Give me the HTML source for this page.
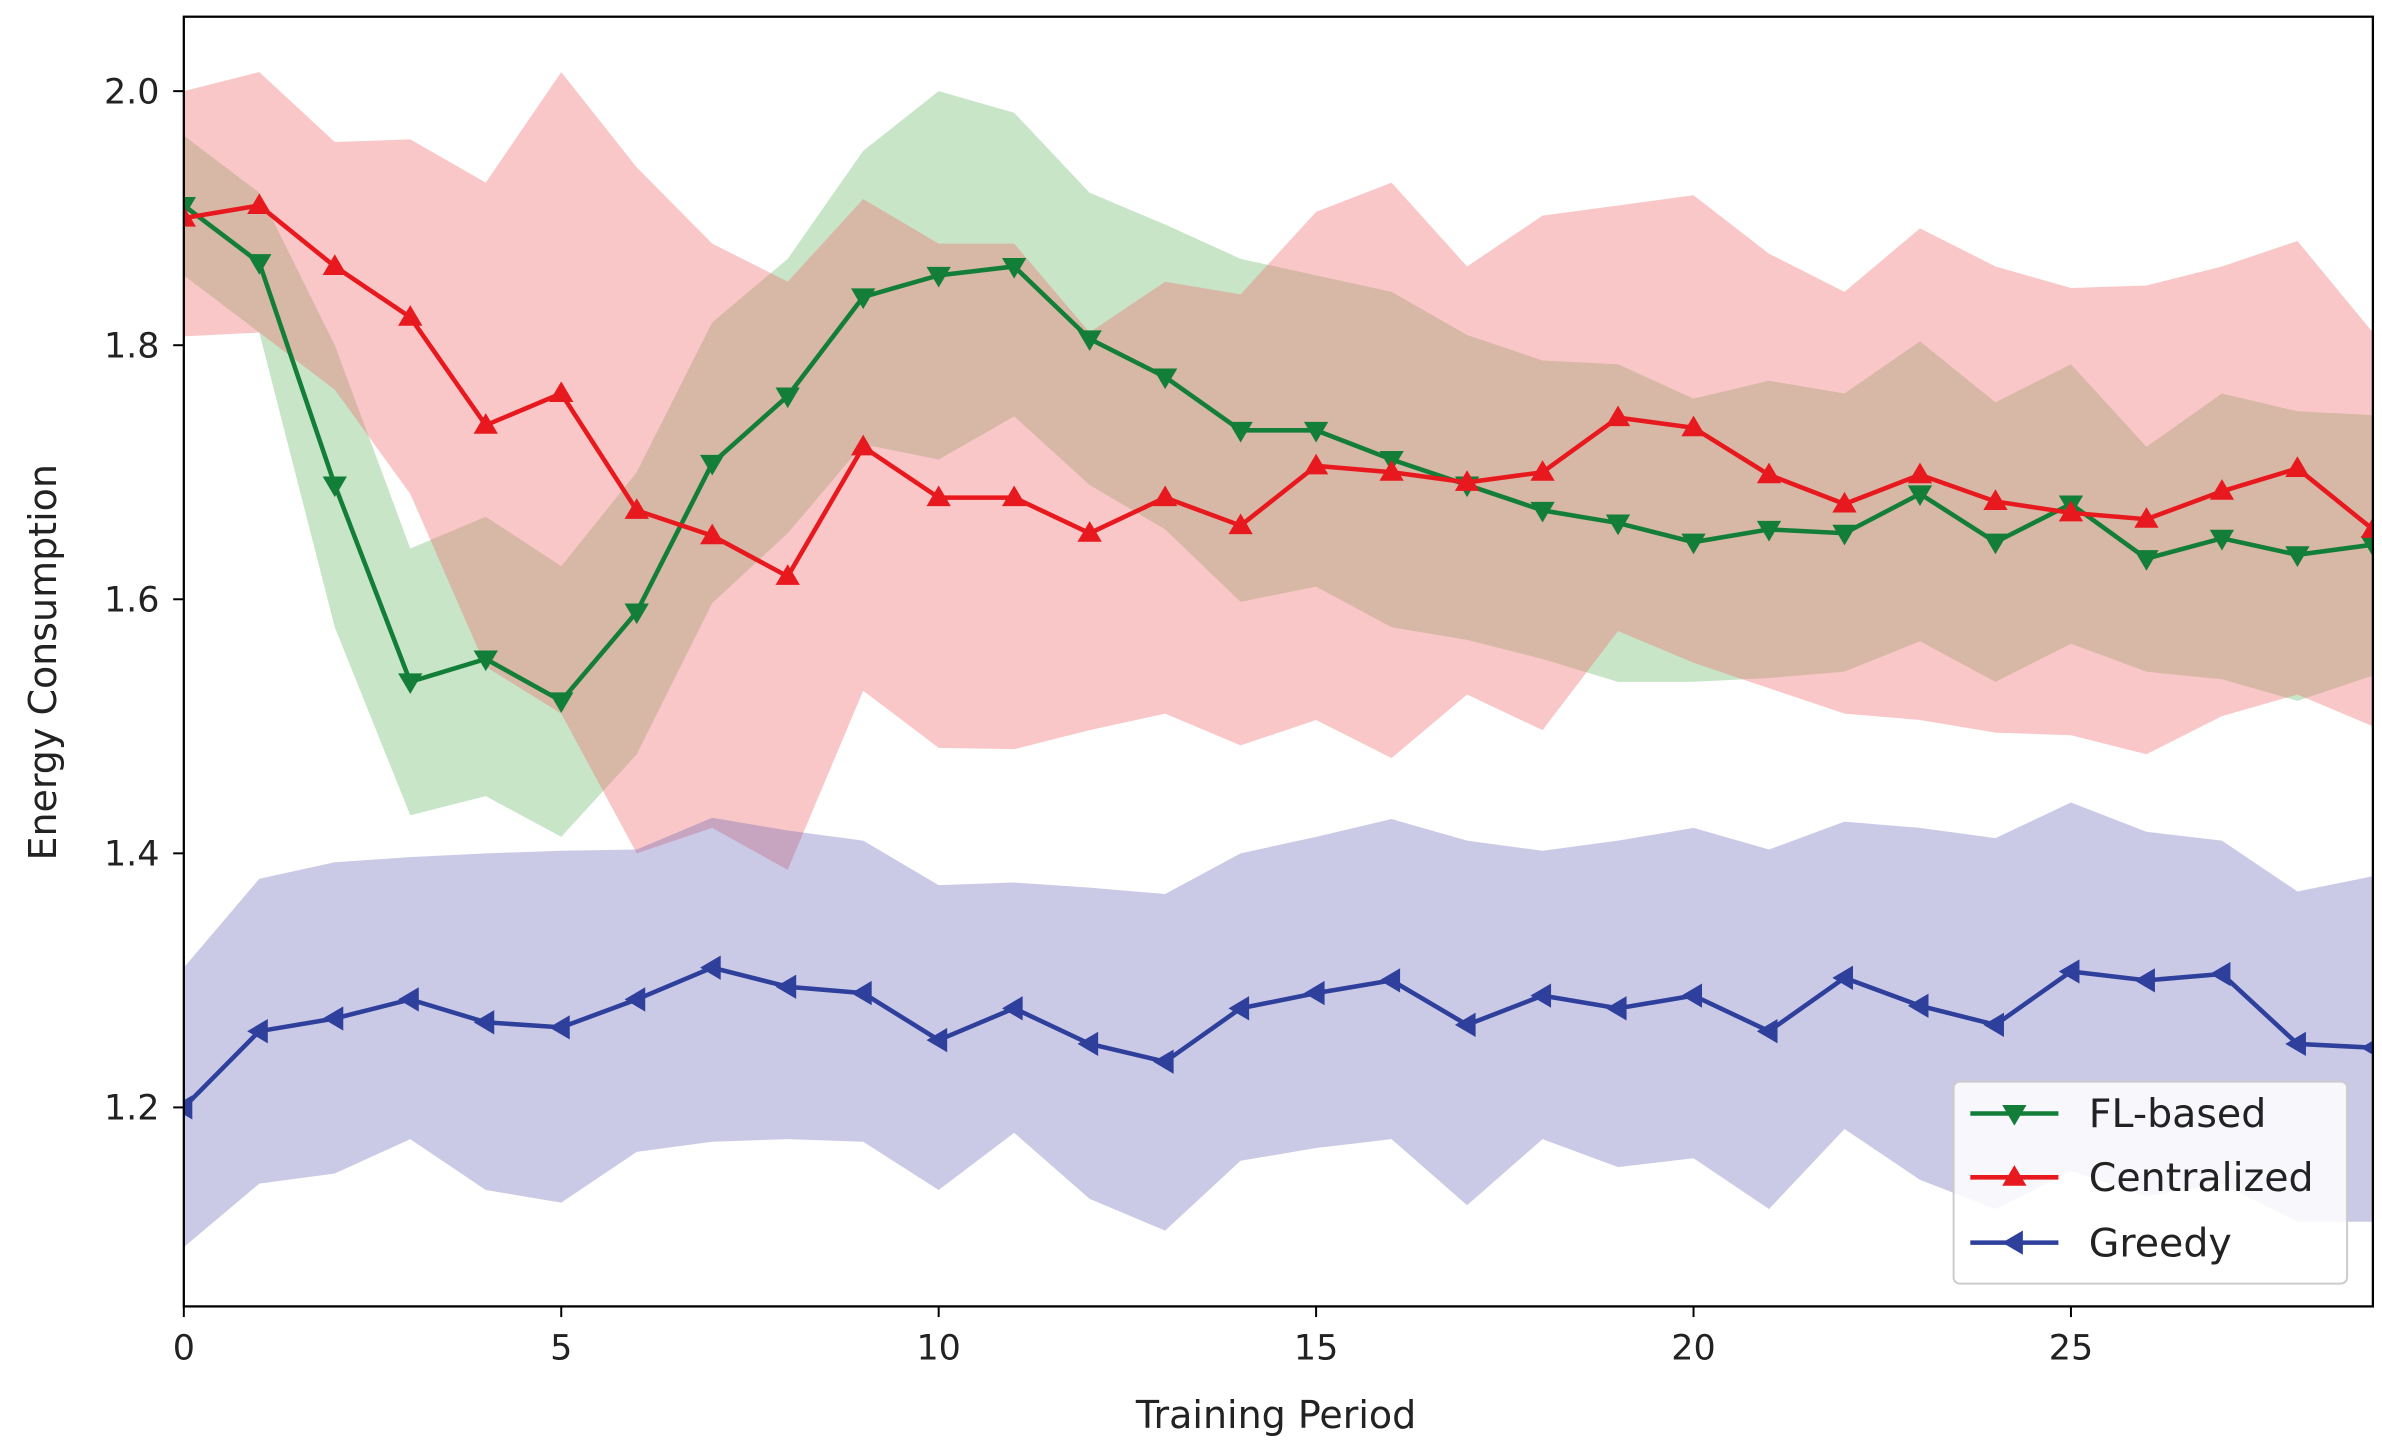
<!DOCTYPE html>
<html><head><meta charset="utf-8"><style>
html,body{margin:0;padding:0;background:#fff;}
svg{display:block;}
text{font-family:"DejaVu Sans","Liberation Sans",sans-serif;fill:#222;}
</style></head><body>
<svg id="s" width="2382" height="1453" viewBox="0 0 1568 956.5" preserveAspectRatio="none" xmlns="http://www.w3.org/2000/svg"></svg>
<script>
const G=[1.91,1.865,1.69,1.535,1.553,1.52,1.59,1.707,1.76,1.838,1.855,1.862,1.805,1.775,1.733,1.733,1.71,1.69,1.67,1.66,1.645,1.655,1.652,1.683,1.645,1.675,1.632,1.648,1.635,1.643];
const R=[1.90,1.91,1.862,1.822,1.737,1.762,1.67,1.65,1.618,1.72,1.68,1.68,1.652,1.68,1.658,1.705,1.70,1.692,1.70,1.743,1.735,1.698,1.675,1.698,1.677,1.668,1.663,1.685,1.703,1.655];
const B=[1.20,1.26,1.27,1.285,1.267,1.263,1.285,1.31,1.295,1.29,1.253,1.278,1.25,1.236,1.278,1.29,1.30,1.265,1.288,1.278,1.288,1.26,1.302,1.28,1.265,1.307,1.30,1.305,1.25,1.247];
const RU=[2.0,2.015,1.96,1.962,1.928,2.015,1.94,1.88,1.85,1.915,1.88,1.88,1.81,1.85,1.84,1.905,1.928,1.862,1.902,1.91,1.918,1.872,1.842,1.892,1.862,1.845,1.847,1.862,1.882,1.81];
const RL=[1.807,1.81,1.765,1.683,1.547,1.51,1.40,1.42,1.387,1.528,1.483,1.482,1.497,1.51,1.485,1.505,1.475,1.525,1.497,1.575,1.55,1.53,1.51,1.505,1.495,1.493,1.478,1.508,1.525,1.50];
const GU=[1.965,1.92,1.80,1.64,1.665,1.626,1.70,1.818,1.868,1.953,2.0,1.983,1.92,1.895,1.868,1.855,1.842,1.808,1.788,1.785,1.758,1.772,1.762,1.803,1.755,1.785,1.72,1.762,1.748,1.745];
const GL=[1.855,1.81,1.578,1.43,1.445,1.413,1.478,1.597,1.652,1.722,1.71,1.744,1.69,1.655,1.598,1.61,1.578,1.568,1.553,1.535,1.535,1.538,1.543,1.567,1.535,1.565,1.543,1.537,1.52,1.54];
const BU=[1.31,1.38,1.393,1.397,1.40,1.402,1.403,1.428,1.418,1.41,1.375,1.377,1.373,1.368,1.4,1.413,1.427,1.41,1.402,1.41,1.42,1.403,1.425,1.42,1.412,1.44,1.417,1.41,1.37,1.382];
const BL=[1.09,1.14,1.148,1.175,1.135,1.125,1.165,1.173,1.175,1.173,1.135,1.18,1.128,1.103,1.158,1.168,1.175,1.123,1.175,1.153,1.16,1.12,1.183,1.143,1.12,1.15,1.13,1.14,1.11,1.11];
const X=i=>121+i*49.69, Y=v=>60+(2.0-v)*836.25;
let h='<defs><clipPath id="c"><rect x="121" y="11" width="1441" height="849"/></clipPath></defs><g clip-path="url(#c)">';
function band(U,L,col,op){let p=U.map((v,i)=>X(i)+','+Y(v));for(let i=L.length-1;i>=0;i--)p.push(X(i)+','+Y(L[i]));h+=`<polygon points="${p.join(' ')}" fill="${col}" fill-opacity="${op}"/>`;}
band(GU,GL,'#4aa84a',0.3);band(RU,RL,'#ee6b6b',0.38);band(BU,BL,'#6a66b8',0.35);
function mk(x,y,t,c){const r=8;let p;
 if(t=='d')p=[[x-r,y-r*0.7],[x+r,y-r*0.7],[x,y+r]];
 else if(t=='u')p=[[x-r,y+r*0.7],[x+r,y+r*0.7],[x,y-r]];
 else p=[[x+r*0.7,y-r],[x+r*0.7,y+r],[x-r,y]];
 return `<polygon points="${p.map(a=>a.join(',')).join(' ')}" fill="${c}"/>`;}
function line(D,c,t){h+=`<polyline points="${D.map((v,i)=>X(i)+','+Y(v)).join(' ')}" fill="none" stroke="${c}" stroke-width="3"/>`;D.forEach((v,i)=>h+=mk(X(i),Y(v),t,c));}
line(G,'#137e38','d');line(R,'#e8191e','u');line(B,'#2e409c','l');
h+='</g><rect x="121" y="11" width="1441" height="849" fill="none" stroke="#000" stroke-width="1.5"/>';
[0,5,10,15,20,25].forEach(t=>{const x=X(t);h+=`<line x1="${x}" y1="860" x2="${x}" y2="867" stroke="#000" stroke-width="1.3"/><text x="${x}" y="895" font-size="23" text-anchor="middle">${t}</text>`;});
[1.2,1.4,1.6,1.8,2.0].forEach(v=>{const y=Y(v);h+=`<line x1="114" y1="${y}" x2="121" y2="${y}" stroke="#000" stroke-width="1.3"/><text x="105" y="${y+8}" font-size="23" text-anchor="end">${v.toFixed(1)}</text>`;});
h+=`<text x="840" y="940" font-size="25" text-anchor="middle">Training Period</text>`;
h+=`<text transform="translate(37,436) rotate(-90)" font-size="25" text-anchor="middle">Energy Consumption</text>`;
h+=`<rect x="1286" y="712" width="259" height="133" rx="4" fill="#fff" fill-opacity="0.85" stroke="#ccc" stroke-width="1.3"/>`;
[['FL-based','#137e38','d',733],['Centralized','#e8191e','u',775],['Greedy','#2e409c','l',818]].forEach(a=>{h+=`<line x1="1297" y1="${a[3]}" x2="1355" y2="${a[3]}" stroke="${a[1]}" stroke-width="3"/>`+mk(1326,a[3],a[2],a[1])+`<text x="1375" y="${a[3]+9}" font-size="26">${a[0]}</text>`;});
document.getElementById('s').innerHTML=h;
</script>
</body></html>
